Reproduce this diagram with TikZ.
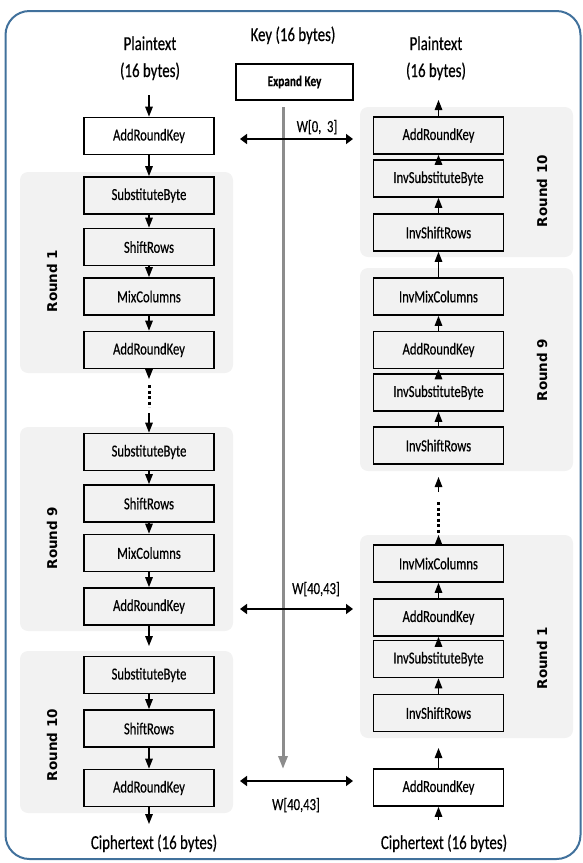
\documentclass[tikz,border=0pt]{standalone}
\usepackage{fontspec}
\setmainfont{Carlito}[FakeStretch=0.75,FakeBold=0.4]
\newfontfamily\roundfont{DejaVu Sans}
\usetikzlibrary{arrows.meta}
\definecolor{framecol}{HTML}{41719C}
\definecolor{panelgray}{HTML}{F2F2F2}
\definecolor{keygray}{HTML}{8C8C8C}
\begin{document}
\begin{tikzpicture}[x=1pt,y=-1pt,
  blk/.style={draw=black, line width=1.6pt, minimum width=130pt, minimum height=37pt, inner sep=0pt, font=\fontsize{16.8}{18}\selectfont},
  panel/.style={fill=panelgray, rounded corners=8pt},
  va/.style={line width=1.4pt, -{Triangle[length=10pt,width=7.5pt]}},
  ha/.style={line width=1.5pt, {Triangle[length=7pt,width=10pt]}-{Triangle[length=7pt,width=10pt]}},
  rlab/.style={rotate=90, inner sep=0pt, font=\roundfont\bfseries\fontsize{13.5}{15}\selectfont},
  lbl/.style={font=\fontsize{19.8}{21}\selectfont, anchor=base, inner sep=0pt},
  wlbl/.style={font=\fontsize{16.8}{18}\selectfont, anchor=base, inner sep=0pt},
  dotline/.style={line width=3pt, dash pattern=on 3pt off 2.5pt}]
\useasboundingbox (0,0) rectangle (582,863);
% frame
\draw[framecol, line width=2pt, rounded corners=24pt] (5.5,11) rectangle (580.5,859);
% panels
\fill[panel] (20,172) rectangle (233,373);
\fill[panel] (20,427) rectangle (233,631);
\fill[panel] (20,651) rectangle (233,813);
\fill[panel] (360,107) rectangle (573,257);
\fill[panel] (360,268) rectangle (573,471);
\fill[panel] (360,535) rectangle (573,738);
% round labels
\node[rlab] (rl1) at (52,281) {Round 1};
\node[rlab] (rl9) at (52,538) {Round 9};
\node[rlab] (rl10) at (52,745) {Round 10};
\node[rlab] (rr10) at (542,191) {Round 10};
\node[rlab] (rr9) at (542,370) {Round 9};
\node[rlab] (rr1) at (542,658) {Round 1};
% top texts
\node[lbl] (ptl1) at (150,50) {Plaintext};
\node[lbl] (ptl2) at (150,77) {(16 bytes)};
\node[lbl] (key) at (293,41) {Key (16 bytes)};
\node[lbl] (ptr1) at (436,50) {Plaintext};
\node[lbl] (ptr2) at (436,77) {(16 bytes)};
\node[blk, minimum width=117pt, minimum height=36pt, font=\bfseries\fontsize{15}{17}\selectfont] (ek) at (294.5,82) {Expand Key};
% left column
\node[blk] (L0) at (149,136) {AddRoundKey};
\node[blk] (L1a) at (149,195.5) {SubstituteByte};
\node[blk] (L1b) at (149,247) {ShiftRows};
\node[blk] (L1c) at (149,296.5) {MixColumns};
\node[blk] (L1d) at (149,350) {AddRoundKey};
\node[blk] (L9a) at (149,452) {SubstituteByte};
\node[blk] (L9b) at (149,503.5) {ShiftRows};
\node[blk] (L9c) at (149,553) {MixColumns};
\node[blk] (L9d) at (149,606.5) {AddRoundKey};
\node[blk] (L10a) at (149,675) {SubstituteByte};
\node[blk] (L10b) at (149,728.5) {ShiftRows};
\node[blk] (L10c) at (149,788) {AddRoundKey};
% right column
\node[blk] (R10a) at (438.5,135.5) {AddRoundKey};
\node[blk] (R10b) at (438.5,178.5) {InvSubstituteByte};
\node[blk] (R10c) at (438.5,232.5) {InvShiftRows};
\node[blk] (R9a) at (438.5,296.5) {InvMixColumns};
\node[blk] (R9b) at (438.5,350) {AddRoundKey};
\node[blk] (R9c) at (438.5,392.5) {InvSubstituteByte};
\node[blk] (R9d) at (438.5,445.5) {InvShiftRows};
\node[blk] (R1a) at (438.5,563.5) {InvMixColumns};
\node[blk] (R1b) at (438.5,617.5) {AddRoundKey};
\node[blk] (R1c) at (438.5,659) {InvSubstituteByte};
\node[blk] (R1d) at (438.5,713) {InvShiftRows};
\node[blk] (R0) at (438.5,787.5) {AddRoundKey};
% bottom texts
\node[lbl] (ctl) at (154,849) {Ciphertext (16 bytes)};
\node[lbl] (ctr) at (444,849) {Ciphertext (16 bytes)};
% W labels
\node[wlbl] (w0) at (317,132) {W[0,\ \ 3]};
\node[wlbl] (w40a) at (316,594) {W[40,43]};
\node[wlbl] (w40b) at (296,810) {W[40,43]};
% coordinates
\coordinate (pinL) at (149,95);
\coordinate (l1out) at (149,379);
\coordinate (ldotA) at (149,385);
\coordinate (ldotB) at (149,407);
\coordinate (l9in) at (149,413);
\coordinate (l9out) at (149,646);
\coordinate (coutL) at (149,824);
\coordinate (poutR) at (438.5,100);
\coordinate (r9up) at (438.5,492);
\coordinate (r9tip) at (438.5,477);
\coordinate (rdotA) at (438.5,502);
\coordinate (rdotB) at (438.5,533);
\coordinate (r1tip) at (438.5,535);
\coordinate (r0tip) at (438.5,748);
\coordinate (cinR) at (438.5,820);
\coordinate (kt) at (283,107);
\coordinate (kb) at (283,769);
\coordinate (h1a) at (240,139);
\coordinate (h1b) at (353,139);
\coordinate (h2a) at (240,609);
\coordinate (h2b) at (353,609);
\coordinate (h3a) at (240,781);
\coordinate (h3b) at (353,781);
% key line
\draw[keygray, line width=3pt, -{Triangle[length=13pt,width=9pt]}] (kt) -- (kb);
\draw[ha] (h1a) -- (h1b);
\draw[ha] (h2a) -- (h2b);
\draw[ha] (h3a) -- (h3b);
% left arrows
\draw[va] (pinL) -- (L0.north);
\draw[va] (L0) -- (L1a);
\draw[va] (L1a) -- (L1b);
\draw[va] (L1b) -- (L1c);
\draw[va] (L1c) -- (L1d);
\draw[va] (L1d.south) -- (l1out);
\draw[dotline] (ldotA) -- (ldotB);
\draw[va] (l9in) -- (L9a.north);
\draw[va] (L9a) -- (L9b);
\draw[va] (L9b) -- (L9c);
\draw[va] (L9c) -- (L9d);
\draw[va] (L9d.south) -- (l9out);
\draw[va] (L10a) -- (L10b);
\draw[va] (L10b) -- (L10c);
\draw[va] (L10c.south) -- (coutL);
% right arrows
\draw[va] (R10a.north) -- (poutR);
\draw[va] (R10b) -- (R10a);
\draw[va] (R10c) -- (R10b);
\draw[va] (R9a) -- (R10c);
\draw[va] (R9b) -- (R9a);
\draw[va] (R9c) -- (R9b);
\draw[va] (R9d) -- (R9c);
\draw[va] (r9up) -- (r9tip);
\draw[dotline] (rdotA) -- (rdotB);
\draw[va] (R1a.north) -- (r1tip);
\draw[va] (R1b) -- (R1a);
\draw[va] (R1c) -- (R1b);
\draw[va] (R1d) -- (R1c);
\draw[va] (R0.north) -- (r0tip);
\draw[va] (cinR) -- (R0.south);
\end{tikzpicture}
\end{document}
